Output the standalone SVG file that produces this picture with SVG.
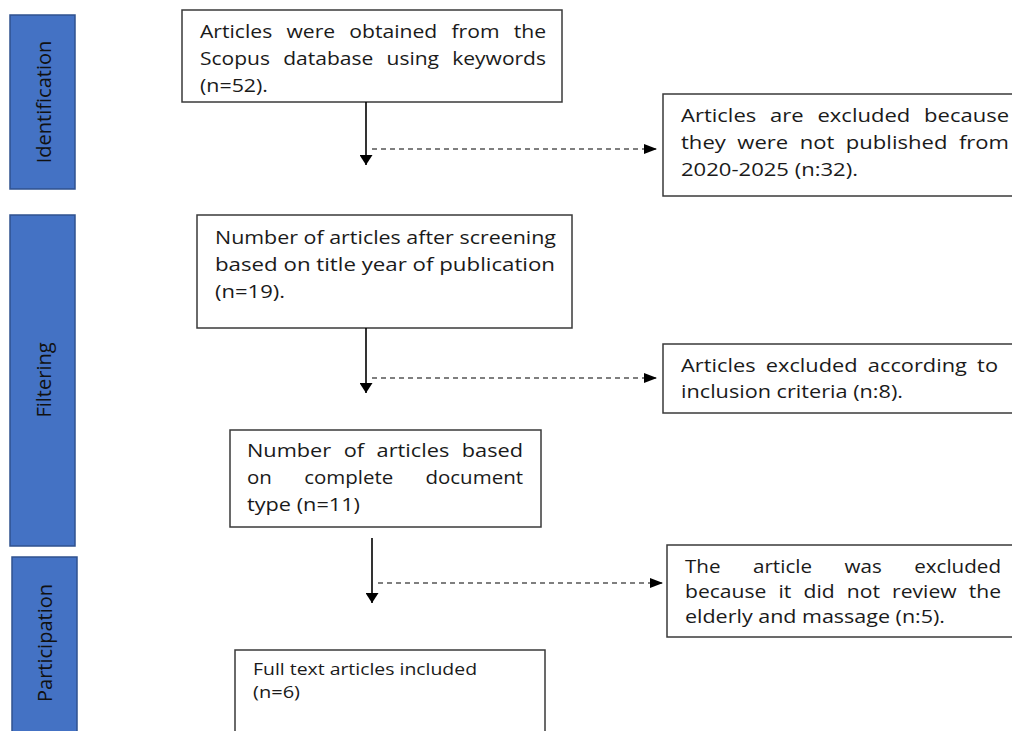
<svg xmlns="http://www.w3.org/2000/svg" width="1012" height="731" viewBox="0 0 1012 731">
<style>
.bar{fill:#4472C4;stroke:#2F528F;stroke-width:1.5}
.box{fill:#fff;stroke:#3a3a3a;stroke-width:1.5}
.t{font-family:"Open Sans","Liberation Sans",sans-serif;font-size:19px;fill:#1a1a1a}
.s{font-size:16.5px}
.v{font-family:"Open Sans","Liberation Sans",sans-serif;font-size:20px;fill:#111;text-anchor:middle}
.solid{stroke:#000;stroke-width:1.6;fill:none}
.dash{stroke:#000;stroke-width:1.2;fill:none;stroke-dasharray:5 4}
</style>
<defs>
<marker id="ah" viewBox="0 0 10 13" refX="10" refY="6.5" markerUnits="userSpaceOnUse" markerWidth="10" markerHeight="13" orient="auto">
<path d="M0,0 L10,6.5 L0,13 Z" fill="#000"/>
</marker>
<marker id="ahd" viewBox="0 0 13 10" refX="13" refY="5" markerUnits="userSpaceOnUse" markerWidth="13" markerHeight="10" orient="auto">
<path d="M0,0 L13,5 L0,10 Z" fill="#000"/>
</marker>
</defs>

<g id="stage-identification">
<rect class="bar" x="10" y="15" width="65" height="174"/>
<text class="v" transform="translate(51,102) rotate(-90)">Identification</text>
</g>
<g id="stage-filtering">
<rect class="bar" x="10" y="215" width="65" height="331"/>
<text class="v" transform="translate(51,380) rotate(-90)">Filtering</text>
</g>
<g id="stage-participation">
<rect class="bar" x="12" y="557" width="65" height="190"/>
<text class="v" transform="translate(52,643) rotate(-90)">Participation</text>
</g>

<g id="n1">
<rect class="box" x="182" y="10" width="380" height="92"/>
<text class="t" x="200" y="38" word-spacing="7.8" textLength="346" lengthAdjust="spacingAndGlyphs">Articles were obtained from the</text>
<text class="t" x="200" y="65" word-spacing="7" textLength="346" lengthAdjust="spacingAndGlyphs">Scopus database using keywords</text>
<text class="t" x="200" y="92" textLength="68" lengthAdjust="spacingAndGlyphs">(n=52).</text>
</g>
<g id="x1">
<rect class="box" x="663" y="94" width="360" height="102"/>
<text class="t" x="681" y="122" word-spacing="7" textLength="328" lengthAdjust="spacingAndGlyphs">Articles are excluded because</text>
<text class="t" x="681" y="149" word-spacing="5" textLength="328" lengthAdjust="spacingAndGlyphs">they were not published from</text>
<text class="t" x="681" y="176" textLength="177" lengthAdjust="spacingAndGlyphs">2020-2025 (n:32).</text>
</g>
<g id="n2">
<rect class="box" x="197" y="215" width="375" height="113"/>
<text class="t" x="215" y="244" textLength="341" lengthAdjust="spacingAndGlyphs">Number of articles after screening</text>
<text class="t" x="215" y="271" textLength="340" lengthAdjust="spacingAndGlyphs">based on title year of publication</text>
<text class="t" x="215" y="298" textLength="70" lengthAdjust="spacingAndGlyphs">(n=19).</text>
</g>
<g id="x2">
<rect class="box" x="663" y="344" width="360" height="69"/>
<text class="t" x="681" y="372" word-spacing="4" textLength="317" lengthAdjust="spacingAndGlyphs">Articles excluded according to</text>
<text class="t" x="681" y="398" textLength="222" lengthAdjust="spacingAndGlyphs">inclusion criteria (n:8).</text>
</g>
<g id="n3">
<rect class="box" x="230" y="430" width="311" height="97"/>
<text class="t" x="247" y="457" word-spacing="6" textLength="276" lengthAdjust="spacingAndGlyphs">Number of articles based</text>
<text class="t" x="247" y="484" word-spacing="25" textLength="276" lengthAdjust="spacingAndGlyphs">on complete document</text>
<text class="t" x="247" y="511" textLength="113" lengthAdjust="spacingAndGlyphs">type (n=11)</text>
</g>
<g id="x3">
<rect class="box" x="667" y="545" width="360" height="92"/>
<text class="t" x="685" y="573" word-spacing="25" textLength="316" lengthAdjust="spacingAndGlyphs">The article was excluded</text>
<text class="t" x="685" y="598" word-spacing="6" textLength="316" lengthAdjust="spacingAndGlyphs">because it did not review the</text>
<text class="t" x="685" y="623" textLength="260" lengthAdjust="spacingAndGlyphs">elderly and massage (n:5).</text>
</g>
<g id="n4">
<rect class="box" x="235" y="650" width="310" height="100"/>
<text class="t s" x="253" y="675" textLength="224" lengthAdjust="spacingAndGlyphs">Full text articles included</text>
<text class="t s" x="253" y="698" textLength="47" lengthAdjust="spacingAndGlyphs">(n=6)</text>
</g>

<g id="connectors">
<line class="solid" x1="366" y1="102" x2="366" y2="165" marker-end="url(#ah)"/>
<line class="dash" x1="372" y1="149" x2="657" y2="149" marker-end="url(#ahd)"/>
<line class="solid" x1="366" y1="328" x2="366" y2="393" marker-end="url(#ah)"/>
<line class="dash" x1="372" y1="378" x2="657" y2="378" marker-end="url(#ahd)"/>
<line class="solid" x1="372" y1="538" x2="372" y2="603" marker-end="url(#ah)"/>
<line class="dash" x1="378" y1="583" x2="663" y2="583" marker-end="url(#ahd)"/>
</g>
</svg>
